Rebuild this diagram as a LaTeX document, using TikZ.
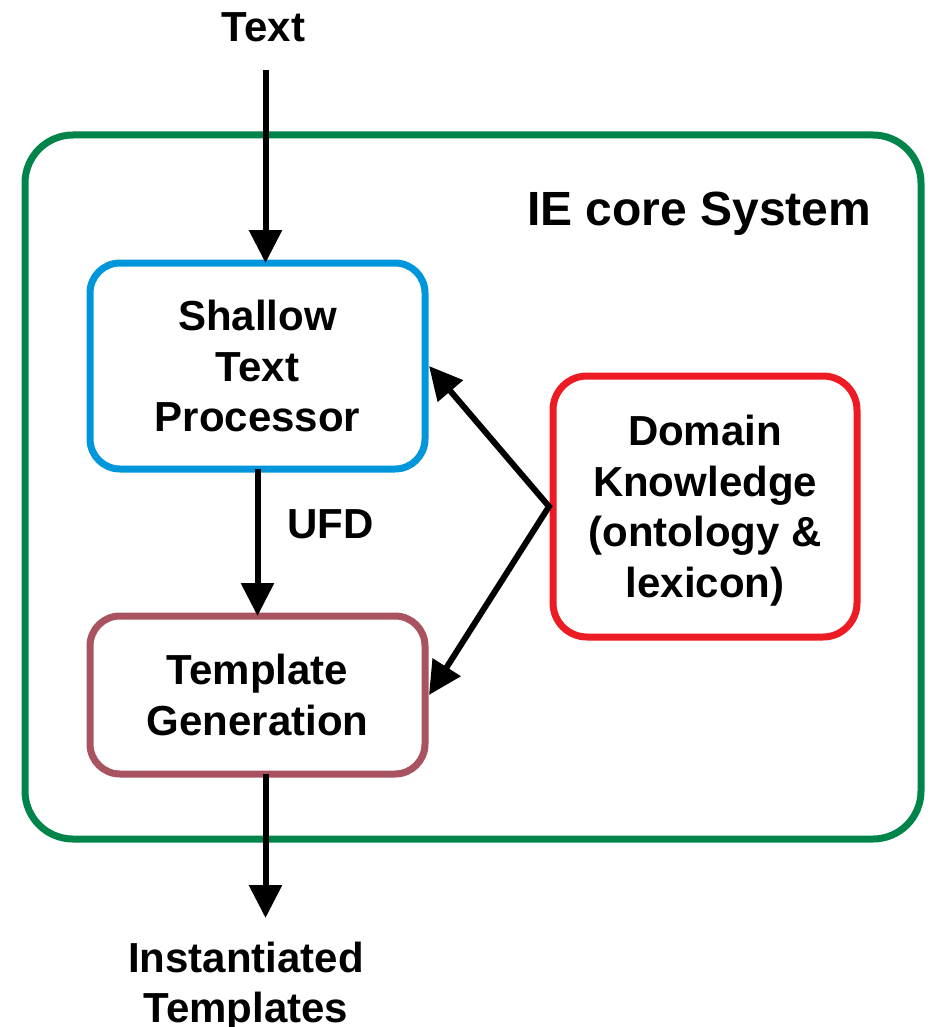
\documentclass[tikz,border=0pt]{standalone}
\usepackage{fontspec}
\setmainfont{Liberation Sans}
\usetikzlibrary{arrows.meta}

\definecolor{sysgreen}{HTML}{00844A}
\definecolor{procblue}{HTML}{0096DB}
\definecolor{knowred}{HTML}{ED1C24}
\definecolor{genbrown}{HTML}{A8535F}

\begin{document}
\begin{tikzpicture}[x=1pt,y=-1pt,
  lbl/.style={font=\bfseries\fontsize{42}{50.5}\selectfont, align=center, inner sep=0pt},
  unit/.style={lbl, draw, line width=7pt, rounded corners=30pt, outer sep=0pt, text depth=0pt},
  tip/.style={Triangle[width=32pt,length=33pt]},
  flow/.style={line width=6pt, line join=miter, -{Triangle[width=32pt,length=33pt]}}
]
\useasboundingbox (0,0) rectangle (929,1027);

% enclosing system frame and its title
\node[draw=sysgreen, line width=7pt, rounded corners=48pt, outer sep=0pt,
      minimum width=896pt, minimum height=704pt] (sys) at (473,487) {};
\node[lbl, font=\bfseries\fontsize{48}{57}\selectfont, anchor=base west] (title) at (527,225) {IE core System};

% processing units
\node[unit, draw=procblue, minimum width=335pt, minimum height=206pt] (stp) at (257.5,366) {Shallow\\Text\\Processor};
\node[unit, draw=genbrown, minimum width=335pt, minimum height=158pt] (tg) at (257.5,695) {Template\\Generation};
\node[unit, draw=knowred, rounded corners=34pt, minimum width=304pt, minimum height=261pt] (dk) at (705,506.5) {Domain\\Knowledge\\(ontology \&\\lexicon)};

% input and output
\node[lbl, anchor=base] (intext) at (263.5,42) {Text};
\coordinate (inarrow) at (265.5,70);
\coordinate (outarrow) at (265.5,918);
\node[lbl, anchor=north] (outtext) at (246,941.5) {Instantiated\\Templates};

% flows
\draw[flow] (inarrow) -- (inarrow |- stp.north);
\draw[flow] (stp.south) -- (tg.north);
\node[lbl, anchor=base west] (ufd) at (287,538) {UFD};
\draw[flow] (tg.south -| outarrow) -- (outarrow);
\draw[line width=6pt, line join=miter, {Triangle[width=32pt,length=33pt]}-{Triangle[width=32pt,length=33pt]}]
  ([xshift=4pt]stp.east) -- ([xshift=-4pt]dk.west) -- ([xshift=4pt]tg.east);
\end{tikzpicture}
\end{document}
